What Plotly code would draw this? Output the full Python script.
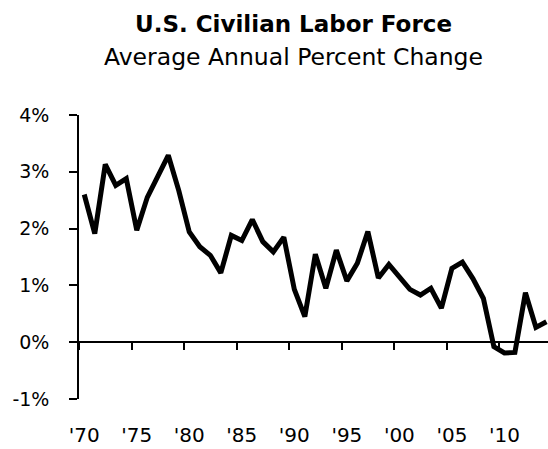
import plotly.graph_objects as go

# ---- data ----
years = list(range(1970, 2015))
pct_change = [
    2.60, 1.91, 3.13, 2.76, 2.88, 1.97, 2.55, 2.93, 3.29, 2.67,
    1.94, 1.68, 1.53, 1.22, 1.88, 1.79, 2.16, 1.77, 1.59, 1.85,
    0.93, 0.45, 1.55, 0.95, 1.62, 1.08, 1.39, 1.95, 1.13, 1.37,
    1.15, 0.93, 0.83, 0.95, 0.60, 1.30, 1.41, 1.12, 0.77, -0.08,
    -0.19, -0.18, 0.87, 0.26, 0.36,
]
label_years = list(range(1970, 2011, 5))
label_text = ["'70", "'75", "'80", "'85", "'90", "'95", "'00", "'05", "'10"]
boundary_ticks = [y - 0.5 for y in range(1970, 2015, 5)]
y_ticks = [-1, 0, 1, 2, 3, 4]
y_text = ["-1%", "0%", "1%", "2%", "3%", "4%"]
title = "U.S. Civilian Labor Force"
subtitle = "Average Annual Percent Change"

FONT = "DejaVu Sans"
x_range = [1969.5, 2014.15]

fig = go.Figure()
fig.add_trace(go.Scatter(
    x=years, y=pct_change, mode="lines",
    line=dict(color="black", width=5, shape="linear"),
    showlegend=False, hoverinfo="x+y",
))
# trace on the secondary x-axis (the zero-line axis with boundary ticks)
fig.add_trace(go.Scatter(
    x=years, y=pct_change, mode="lines", xaxis="x2",
    line=dict(color="rgba(0,0,0,0)", width=0),
    showlegend=False, hoverinfo="skip",
))

fig.update_layout(
    width=548, height=449,
    margin=dict(l=79, r=0, t=115, b=50),
    paper_bgcolor="white", plot_bgcolor="white",
    font=dict(family=FONT, color="black"),
    xaxis=dict(
        range=x_range, showgrid=False, zeroline=False, showline=False,
        tickmode="array", tickvals=label_years, ticktext=label_text,
        ticks="", ticklabelstandoff=22,
        tickfont=dict(family=FONT, size=20, color="black"),
    ),
    xaxis2=dict(
        range=x_range, overlaying="x", anchor="free", position=0.2,
        side="bottom", showgrid=False, zeroline=False,
        showline=True, linecolor="black", linewidth=1.6,
        tickmode="array", tickvals=boundary_ticks, ticks="outside",
        ticklen=7, tickwidth=1.6, tickcolor="black", showticklabels=False,
    ),
    yaxis=dict(
        range=[-1, 4], showgrid=False, zeroline=False,
        showline=True, linecolor="black", linewidth=1.6,
        tickmode="array", tickvals=y_ticks, ticktext=y_text,
        ticks="outside", ticklen=8, tickwidth=1.6, tickcolor="black",
        ticklabelstandoff=16,
        tickfont=dict(family=FONT, size=19, color="black"),
    ),
    annotations=[
        dict(text="<b>" + title + "</b>", xref="paper", yref="paper",
             x=0.4584, y=1.322, xanchor="center", yanchor="middle",
             showarrow=False, font=dict(family=FONT, size=23, color="black")),
        dict(text=subtitle, xref="paper", yref="paper",
             x=0.458, y=1.205, xanchor="center", yanchor="middle",
             showarrow=False, font=dict(family=FONT, size=23.5, color="black")),
    ],
)

fig.write_html(
    "out.html",
    config={"displayModeBar": False},
    post_script="document.body.style.margin='0';document.body.style.padding='0';",
)
